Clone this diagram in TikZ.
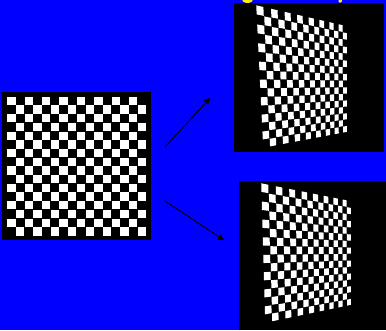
\documentclass[tikz,border=0pt]{standalone}
\usetikzlibrary{arrows.meta}
\definecolor{bgblue}{RGB}{0,0,255}
\definecolor{ttlyellow}{RGB}{255,240,0}
\newcommand\HHset[8]{\def\HHa{#1}\def\HHb{#2}\def\HHc{#3}\def\HHd{#4}\def\HHe{#5}\def\HHf{#6}\def\HHg{#7}\def\HHh{#8}}
\newcommand\HHcalc[4]{%
  \pgfmathsetmacro\HHden{\HHg*(#1)+\HHh*(#2)+1}%
  \pgfmathsetmacro#3{(\HHa*(#1)+\HHb*(#2)+\HHc)/\HHden}%
  \pgfmathsetmacro#4{(\HHd*(#1)+\HHe*(#2)+\HHf)/\HHden}}
\newcommand\warpboard{%
  \foreach \i in {0,...,15}{%
    \foreach \j in {0,...,15}{%
      \pgfmathtruncatemacro\pp{mod(\i+\j,2)}%
      \ifnum\pp=0
        \pgfmathsetmacro\ua{(\i+0.03)/16}%
        \pgfmathsetmacro\ub{(\i+0.97)/16}%
        \pgfmathsetmacro\va{(\j+0.03)/16}%
        \pgfmathsetmacro\vb{(\j+0.97)/16}%
        \HHcalc{\ua}{\va}{\xA}{\yA}%
        \HHcalc{\ub}{\va}{\xB}{\yB}%
        \HHcalc{\ub}{\vb}{\xC}{\yC}%
        \HHcalc{\ua}{\vb}{\xD}{\yD}%
        \fill[white] (\xA,\yA) -- (\xB,\yB) -- (\xC,\yC) -- (\xD,\yD) -- cycle;
      \fi
    }%
  }}
\tikzset{
  panel/.style={fill=black, draw=none, inner sep=0pt, outer sep=0pt, anchor=north west},
  arr/.style={black, line width=0.9pt, -{Triangle[length=6.5pt,width=5.5pt]}}
}
\begin{document}
\begin{tikzpicture}[x=1pt,y=-1pt]
\useasboundingbox (0,0) rectangle (386,330);
\fill[bgblue] (0,0) rectangle (386,330);
% title fragments cut off at the top
\begin{scope}
\clip (0,0) rectangle (386,330);
\fill[ttlyellow] (247.5,-1.5) ellipse [x radius=6, y radius=4.5];
\fill[ttlyellow, rounded corners=1pt] (338.5,-3) rectangle (341.8,2.6);
\end{scope}
% panels
\node[panel, minimum width=149pt, minimum height=148pt] (src) at (2,92) {};
\node[panel, minimum width=149.5pt, minimum height=148.4pt] (tgta) at (234,3.3) {};
\node[panel, minimum width=147pt, minimum height=149pt] (tgtb) at (239,181) {};
% source checkerboard
\foreach \i in {0,...,15}{%
  \foreach \j in {0,...,15}{%
    \pgfmathtruncatemacro\pp{mod(\i+\j,2)}%
    \ifnum\pp=0
      \fill[white] ({7+8.7*\i+0.2},{96.5+8.7*\j+0.2}) rectangle ++(8.3,8.3);
    \fi
  }%
}
% warped checkerboard, top right
\HHset{216.49}{28.92}{256}{30.40}{155.33}{5}{0.36164}{0.08333}
\warpboard
% warped checkerboard, bottom right
\HHset{214.33}{16.33}{261}{89.20}{155.02}{183}{0.35421}{0.04651}
\warpboard
% arrows
\coordinate (a1s) at (165,147);
\coordinate (a1e) at (210.5,97.5);
\coordinate (a2s) at (165,201);
\coordinate (a2e) at (224.5,240.5);
\draw[arr] (a1s) -- (a1e);
\draw[arr] (a2s) -- (a2e);
\end{tikzpicture}
\end{document}
